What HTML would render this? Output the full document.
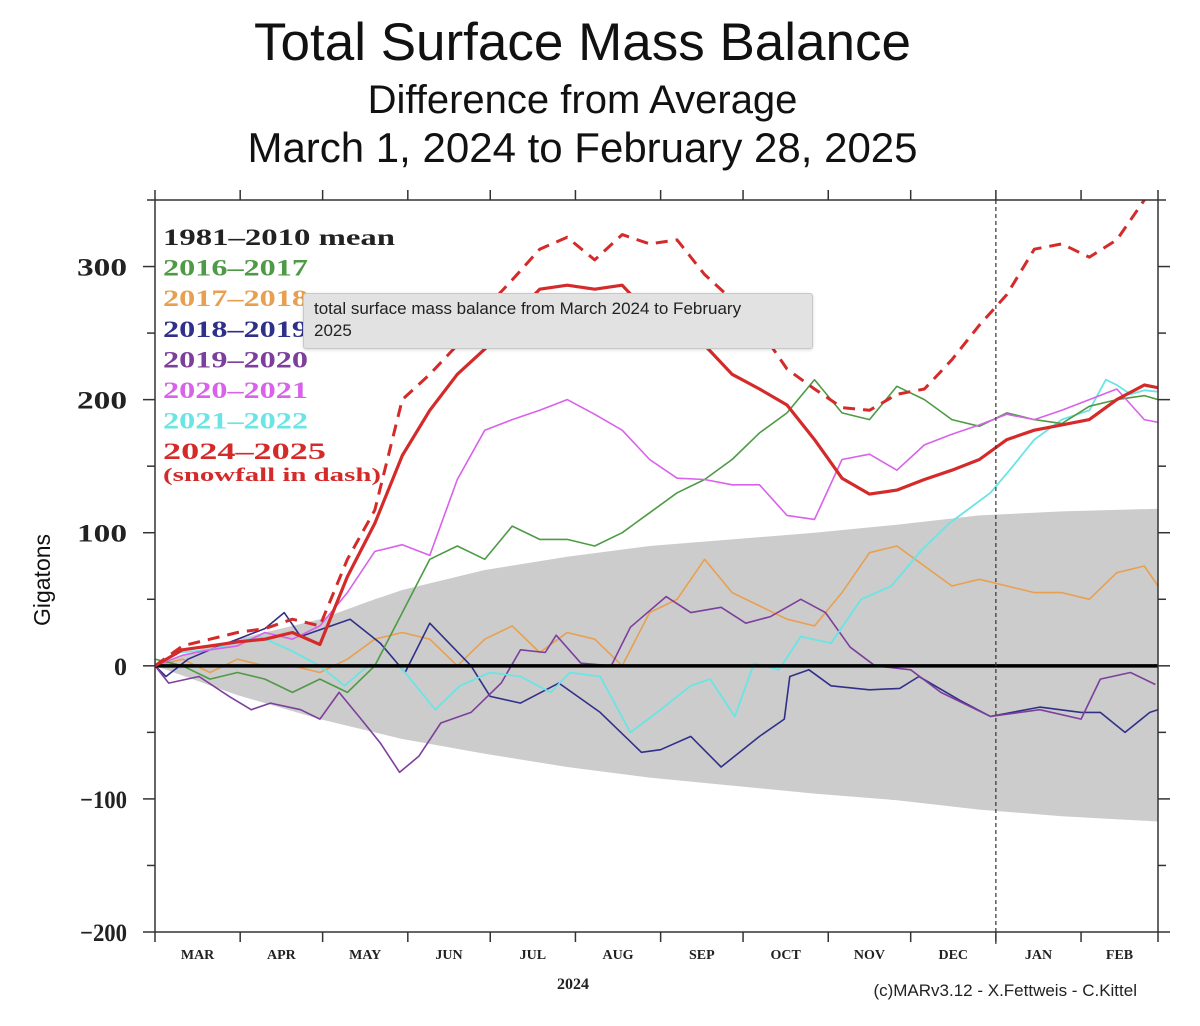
<!DOCTYPE html>
<html><head><meta charset="utf-8">
<style>
html,body{margin:0;padding:0;background:#fff;}
body{width:1200px;height:1026px;position:relative;overflow:hidden;font-family:"Liberation Sans",sans-serif;}
.t{position:absolute;left:0;width:1165px;text-align:center;color:#111;white-space:nowrap;}
#tooltip{position:absolute;left:303px;top:293px;width:488px;height:46px;padding:4px 10px;background:#e2e2e2;border:1px solid #c8c8c8;border-radius:3px;font-size:17px;line-height:22px;color:#222;box-shadow:0 1px 3px rgba(0,0,0,0.15);}
</style></head><body>
<div class="t" style="top:12px;font-size:53px;">Total Surface Mass Balance</div>
<div class="t" style="top:78px;font-size:40px;">Difference from Average</div>
<div class="t" style="top:124px;font-size:42px;">March 1, 2024 to February 28, 2025</div>
<svg id="chart" width="1200" height="1026" style="position:absolute;left:0;top:0;"></svg>
<div id="tooltip">total surface mass balance from March 2024 to February<br>2025</div>
<script>
const bandDays=[0,20,40,60,80,90,120,150,180,210,240,270,300,330,365];
const bandUpper=[0,15,25,35,50,57,72,82,90,95,100,106,113,116,118];
const bandLowerDays=[0,30,60,90,120,150,180,210,240,270,300,330,365];
const bandLower=[0,-22,-40,-55,-66,-76,-84,-90,-96,-101,-108,-113,-117];
const gridDays=[0,10,20,30,40,50,60,70,80,90,100,110,120,130,140,150,160,170,180,190,200,210,220,230,240,250,260,270,280,290,300,310,320,330,340,350,360,365];
const redSolid=[0,12,15,18,20,25,16,67,107,158,192,219,238,262,283,286,283,286,264,253,241,219,208,196,170,141,129,132,140,147,155,170,177,181,185,200,211,209];
const redDash=[0,15,20,25,28,35,30,80,117,200,219,241,268,290,313,322,305,324,317,320,294,275,253,223,208,194,192,204,208,230,256,279,313,317,307,320,350,375];
const magenta=[0,8,12,15,25,20,30,55,86,91,83,140,177,185,192,200,189,177,155,141,140,136,136,113,110,155,159,147,166,174,181,189,185,192,200,208,185,183];
const green=[5,0,-10,-5,-10,-20,-10,-20,0,40,80,90,80,105,95,95,90,100,115,130,140,155,175,190,215,190,185,210,200,185,180,190,185,182,195,200,203,200];
const orange=[0,5,-5,5,0,0,-5,5,20,25,20,0,20,30,10,25,20,0,40,50,80,55,45,35,30,55,85,90,75,60,65,60,55,55,50,70,75,60];
const navyDays=[0,4,12,20,30,40,47,53,71,82,91,100,115,122,133,147,162,177,184,195,206,220,229,231,238,246,260,271,278,293,304,322,337,344,353,362,365];
const navy=[0,-8,5,12,20,28,40,22,35,17,-5,32,0,-23,-28,-13,-35,-65,-63,-53,-76,-53,-40,-8,-3,-15,-18,-17,-8,-26,-38,-31,-35,-35,-50,-35,-33];
const purpleDays=[0,5,16,27,35,42,53,60,67,75,82,89,96,104,115,126,133,142,146,155,166,173,186,195,206,215,224,235,244,253,262,275,286,304,322,337,344,355,364];
const purple=[0,-13,-8,-23,-33,-28,-33,-40,-20,-40,-58,-80,-68,-43,-35,-13,12,10,23,2,0,29,52,40,44,32,37,50,40,14,0,-3,-20,-38,-33,-40,-10,-5,-14];
const cyanDays=[0,9,20,38,49,60,69,78,89,102,111,122,133,144,151,162,173,184,195,202,211,218,227,235,246,257,268,279,289,304,311,320,330,340,346,350,355,360,365];
const cyan=[0,10,12,22,12,0,-15,1,0,-33,-15,-5,-8,-20,-5,-8,-50,-33,-15,-10,-38,2,-3,22,17,50,60,87,107,130,147,170,185,192,215,211,204,207,206];
const yTicks=[-200,-100,0,100,200,300];
const yLabels=["\u2212200","\u2212100","0","100","200","300"];
const months=["MAR","APR","MAY","JUN","JUL","AUG","SEP","OCT","NOV","DEC","JAN","FEB"];
const monthStarts=[0,31,61,92,122,153,184,214,245,275,306,337,365];

const X0=155,X1=1158,Y0=200,Y1=932,VMAX=350,VMIN=-200,DMAX=365;
const xs=d=>X0+d/DMAX*(X1-X0);
const ys=v=>Y0+(VMAX-v)/(VMAX-VMIN)*(Y1-Y0);
const NS="http://www.w3.org/2000/svg";
const svg=document.getElementById('chart');
function mk(tag,attrs,parent){const e=document.createElementNS(NS,tag);for(const k in attrs)e.setAttribute(k,attrs[k]);(parent||svg).appendChild(e);return e;}
const defs=mk('defs',{});
const cp=mk('clipPath',{id:'plotclip'},defs);mk('rect',{x:X0,y:Y0,width:X1-X0,height:Y1-Y0},cp);

let bp=bandDays.map((d,i)=>(i?'L':'M')+xs(d).toFixed(1)+','+ys(bandUpper[i]).toFixed(1)).join(' ');
for(let i=bandLowerDays.length-1;i>=0;i--)bp+=' L'+xs(bandLowerDays[i]).toFixed(1)+','+ys(bandLower[i]).toFixed(1);
const band=mk('path',{d:bp+' Z',fill:'#cccccc','clip-path':'url(#plotclip)'});



function line(days,vals,color,w,name,dash){
  const p=mk('path',{d:days.map((d,i)=>(i?'L':'M')+xs(d).toFixed(1)+','+ys(vals[i]).toFixed(1)).join(' '),fill:'none',stroke:color,'stroke-width':w,'stroke-linejoin':'round','clip-path':'url(#plotclip)'});
  if(dash)p.setAttribute('stroke-dasharray',dash);
  
  
}
line(gridDays,orange,'#e8a050',1.6,'line-2017-2018');
line(navyDays,navy,'#30308a',1.6,'line-2018-2019');
line(purpleDays,purple,'#7d3f9c',1.6,'line-2019-2020');
line(cyanDays,cyan,'#6ae4e4',1.8,'line-2021-2022');
line(gridDays,green,'#4e9a46',1.6,'line-2016-2017');
line(gridDays,magenta,'#d862ea',1.6,'line-2020-2021');
const z=mk('line',{x1:X0,x2:X1,y1:ys(0),y2:ys(0),stroke:'#000','stroke-width':3.5});


line(gridDays,redDash,'#d42a2a',3,'line-2024-2025-snowfall','12,8');
line(gridDays,redSolid,'#d42a2a',3.2,'line-2024-2025');
const dv=mk('line',{x1:xs(306),x2:xs(306),y1:Y0,y2:Y1+12,stroke:'#333','stroke-width':1.2,'stroke-dasharray':'4,3'});


const fr=mk('rect',{x:X0,y:Y0,width:X1-X0,height:Y1-Y0,fill:'none',stroke:'#333','stroke-width':1.5});


for(let v=-200;v<=350;v+=50){
  const big=v%100===0, L=big?12:8;
  mk('line',{x1:X0-L,x2:X0,y1:ys(v),y2:ys(v),stroke:'#333','stroke-width':1.5});
  mk('line',{x1:X1,x2:X1+L,y1:ys(v),y2:ys(v),stroke:'#333','stroke-width':1.5});
}
const yWidths=[47,47,13,50,50,50];
yTicks.forEach((v,i)=>{
  const t=mk('text',{x:127-yWidths[i],y:ys(v)+9,'font-family':'Liberation Serif, serif','font-size':25,'font-weight':'bold',fill:'#222',textLength:yWidths[i],lengthAdjust:'spacingAndGlyphs'});
  t.textContent=yLabels[i];
  
  
});
const yt=mk('text',{x:0,y:0,transform:'translate(50,580) rotate(-90)','text-anchor':'middle','font-family':'Liberation Sans, sans-serif','font-size':23,fill:'#111'});
yt.textContent='Gigatons';


monthStarts.forEach(d=>{
  mk('line',{x1:xs(d),x2:xs(d),y1:Y1,y2:Y1+10,stroke:'#333','stroke-width':1.5});
  mk('line',{x1:xs(d),x2:xs(d),y1:Y0-10,y2:Y0,stroke:'#333','stroke-width':1.5});
});
months.forEach((m,i)=>{
  const t=mk('text',{x:xs((monthStarts[i]+monthStarts[i+1])/2),y:959,'text-anchor':'middle','font-family':'Liberation Serif, serif','font-size':14,'font-weight':'bold',fill:'#222'});
  t.textContent=m;
  
  
});
const yr=mk('text',{x:573,y:989,'text-anchor':'middle','font-family':'Liberation Serif, serif','font-size':16,'font-weight':'bold',fill:'#222'});
yr.textContent='2024';


const cr=mk('text',{x:1137,y:996,'text-anchor':'end','font-family':'Liberation Sans, sans-serif','font-size':17,fill:'#222'});
cr.textContent='(c)MARv3.12 - X.Fettweis - C.Kittel';


const legendLabels=["1981\u20132010 mean","2016\u20132017","2017\u20132018","2018\u20132019","2019\u20132020","2020\u20132021","2021\u20132022","2024\u20132025"];
const legendColors=["#222","#4e9a46","#e8a050","#30308a","#7d3f9c","#d862ea","#6ae4e4","#d42a2a"];
const legendWidths=[232,145,145,145,145,145,145,163];
legendLabels.forEach((s,i)=>{
  const t=mk('text',{x:163,y:245+i*30.6,'font-family':'Liberation Serif, serif','font-size':23,'font-weight':'bold',fill:legendColors[i],textLength:legendWidths[i],lengthAdjust:'spacingAndGlyphs'});
  t.textContent=s;
  
  
});
const sn=mk('text',{x:163,y:481,'font-family':'Liberation Serif, serif','font-size':19,'font-weight':'bold',fill:'#d42a2a',textLength:218,lengthAdjust:'spacingAndGlyphs'});
sn.textContent='(snowfall in dash)';


</script>
</body></html>
